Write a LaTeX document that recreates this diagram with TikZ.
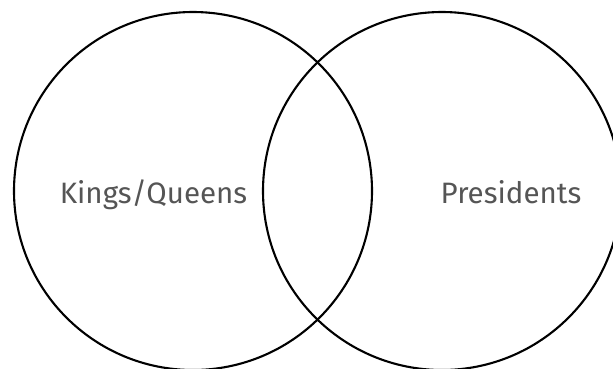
\documentclass[tikz,border=0pt]{standalone}
\usepackage{fontspec}
\setmainfont{Fira Sans}
\definecolor{labelgray}{HTML}{555555}
\tikzset{
  setcircle/.style={circle, draw=black, line width=2.1pt, minimum size=358pt, inner sep=0pt},
  setlabel/.style={text=labelgray, font=\fontsize{29.5}{31}\selectfont, anchor=base, inner sep=0pt}
}
\begin{document}
\begin{tikzpicture}[x=1pt,y=-1pt]
\useasboundingbox (0,0) rectangle (613,368);
\clip (0,0) rectangle (613,368);
\fill[white] (0,0) rectangle (613,368);
\node[setcircle] (kings) at (193,191) {};
\node[setcircle] (pres) at (442,191) {};
\node[setlabel] (kingslabel) at (153.5,203.5) {Kings/Queens};
\node[setlabel] (preslabel) at (511,203.5) {Presidents};
\end{tikzpicture}
\end{document}
